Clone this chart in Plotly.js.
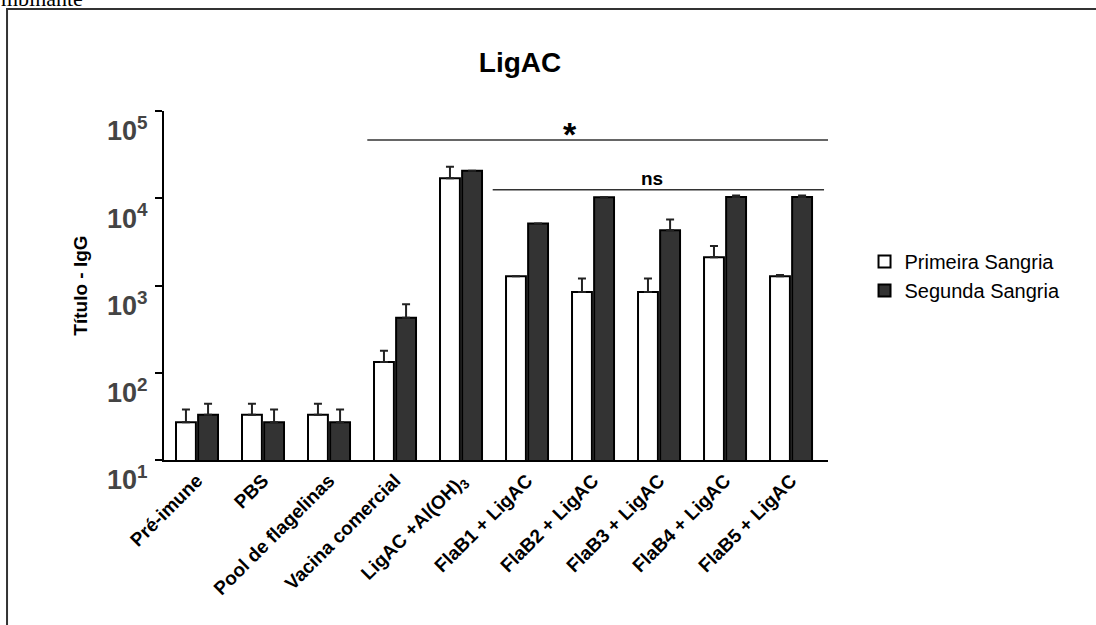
<!DOCTYPE html>
<html>
<head>
<meta charset="utf-8">
<script src="https://cdn.plot.ly/plotly-3.0.1.min.js"></script>
<style>html,body{margin:0;padding:0;background:#fff;}#chart{width:1096px;height:625px;}</style>
</head>
<body>
<div id="chart"></div>
<script>
var categories = ["Pré-imune", "PBS", "Pool de flagelinas", "Vacina comercial", "LigAC +Al(OH)<sub>3</sub>",
  "FlaB1 + LigAC", "FlaB2 + LigAC", "FlaB3 + LigAC", "FlaB4 + LigAC", "FlaB5 + LigAC"];
var seriesNames = ["Primeira Sangria", "Segunda Sangria"];
var primeira = [27, 33, 33, 133, 17000, 1280, 845, 845, 2110, 1280];
var primeiraErro = [11, 11, 11, 46, 5900, 0, 360, 360, 720, 40];
var segunda = [33, 27, 27, 426, 20600, 5120, 10240, 4290, 10350, 10350];
var segundaErro = [11, 11, 11, 184, 0, 0, 0, 1400, 400, 400];
var yTickVals = [10, 100, 1000, 10000, 100000];
var yTickText = ["10<sup>1</sup>", "10<sup>2</sup>", "10<sup>3</sup>", "10<sup>4</sup>", "10<sup>5</sup>"];

var font = "Liberation Sans, Arial, sans-serif";
var idx = categories.map(function (c, i) { return i; });

function bar(name, y, err, fill) {
  return {
    type: "bar", name: name, x: idx, y: y,
    marker: { color: fill, line: { color: "#000", width: 2 } },
    error_y: { type: "data", symmetric: false, array: err, arrayminus: err.map(function () { return 0; }),
      color: "#222", thickness: 2, width: 4 }
  };
}

var data = [bar(seriesNames[0], primeira, primeiraErro, "#ffffff"),
            bar(seriesNames[1], segunda, segundaErro, "#333333")];

var layout = {
  width: 1096, height: 625,
  margin: { l: 164, r: 268, t: 111, b: 165 },
  paper_bgcolor: "#fff", plot_bgcolor: "#fff",
  font: { family: font, color: "#000" },
  barmode: "group", bargap: 0.33, bargroupgap: 0.1,
  title: { text: "<b>LigAC</b>", font: { size: 28, family: font, color: "#000" },
    xref: "container", yref: "container", x: 0.4745, y: 0.90, xanchor: "center", yanchor: "middle" },
  xaxis: {
    range: [-0.5, 9.56], tickvals: idx, ticktext: categories.map(function (c) { return "<b>" + c + "</b>"; }),
    tickangle: -45, tickfont: { size: 19, family: font, color: "#000" },
    showline: true, linecolor: "#000", linewidth: 2, ticks: "", showgrid: false, zeroline: false,
    automargin: false, fixedrange: true
  },
  yaxis: {
    type: "log", range: [1, 5], tickvals: yTickVals, ticktext: yTickText.map(function (t) { return "<b>" + t + "</b>"; }),
    tickfont: { size: 27, family: font, color: "#444" }, ticklabelshift: 20, ticklabelstandoff: 2,
    ticks: "outside", ticklen: 7, tickwidth: 2, tickcolor: "#000",
    showline: true, linecolor: "#000", linewidth: 2, showgrid: false, zeroline: false,
    title: { text: "<b>Título - IgG</b>", font: { size: 19, family: font, color: "#000" }, standoff: 14 },
    automargin: false, fixedrange: true
  },
  showlegend: true,
  legend: { x: 1.055, y: 0.625, xanchor: "left", yanchor: "top", font: { size: 20, family: font, color: "#000" },
    bgcolor: "rgba(0,0,0,0)", tracegroupgap: 0, itemclick: false },
  shapes: [
    { type: "line", xref: "x", yref: "paper", x0: 2.58, x1: 9.56, y0: 0.917, y1: 0.917, line: { color: "#333", width: 1.5 } },
    { type: "line", xref: "x", yref: "paper", x0: 4.48, x1: 9.5, y0: 0.774, y1: 0.774, line: { color: "#333", width: 1.5 } },
    { type: "rect", xref: "paper", yref: "paper", x0: -0.2364, x1: 1.42, y0: -0.5, y1: 1.292, line: { color: "#333", width: 2 } }
  ],
  annotations: [
    { text: "<b>*</b>", xref: "x", yref: "paper", x: 5.65, y: 0.935, showarrow: false, font: { size: 34, family: font, color: "#000" }, yanchor: "middle" },
    { text: "<b>ns</b>", xref: "x", yref: "paper", x: 6.9, y: 0.808, showarrow: false, font: { size: 19, family: font, color: "#000" }, yanchor: "middle" },
    { text: "mbinante", xref: "paper", yref: "paper", x: -0.249, y: 1.321, xanchor: "left", yanchor: "middle", showarrow: false,
      font: { size: 22, family: "Liberation Serif, Times New Roman, serif", color: "#000" } }
  ]
};

Plotly.newPlot("chart", data, layout, { displayModeBar: false, staticPlot: true });
</script>
</body>
</html>
